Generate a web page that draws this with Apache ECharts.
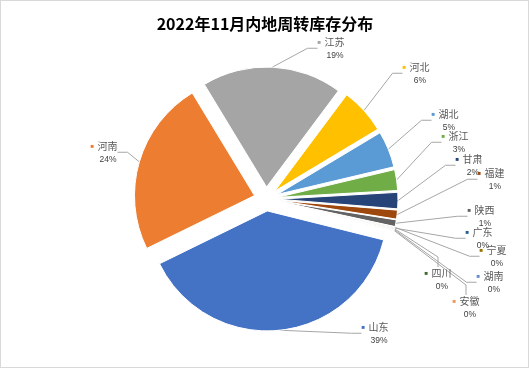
<!DOCTYPE html>
<html>
<head>
<meta charset="utf-8">
<script src="https://cdn.jsdelivr.net/npm/echarts@6/dist/echarts.min.js"></script>
<style>
html,body{margin:0;padding:0;background:#fff;}
#frame{position:absolute;left:0;top:0;width:527px;height:366px;border:1px solid #d9d9d9;}
#chart{position:absolute;left:0;top:0;width:530px;height:369px;}
</style>
</head>
<body>
<div id="frame"></div>
<div id="chart"></div>
<script>
// Data
const provinces = ['山东','河南','江苏','河北','湖北','浙江','甘肃','福建','陕西','宁夏','广东','四川','湖南','安徽'];
const shares = [38.9, 23.6, 18.9, 6.2, 4.9, 2.8, 2.2, 1.2, 0.9, 0.1, 0.1, 0.1, 0.1, 0.1];
const titleText = '2022年11月内地周转库存分布';

// Styles
const colors = ['#4472C4','#ED7D31','#A5A5A5','#FFC000','#5B9BD5','#70AD47','#264478','#9E480E','#636363','#997300','#255E91','#43682B','#698ED0','#F1975A'];
// label block positions [centerX, topY]
const labelPos = [[375,320],[104,139],[331,35],[416,60],[445,107],[455,129],[469,152],[491,166],[481,203],[493,243],[479,225],[438,266],[490,269],[466,294]];

const total = shares.reduce((a,b)=>a+b,0);
const sliceData = provinces.map((p,i)=>({
  name: p, value: shares[i], selected: true,
  itemStyle: {color: colors[i]}
}));
const labelData = provinces.map((p,i)=>({
  name: p, value: shares[i],
  itemStyle: {color: 'rgba(0,0,0,0)', borderWidth: 0},
  label: {
    formatter: '{m|■} {n|' + p + '}\n{p|' + Math.round(shares[i]/total*100) + '%}',
    rich: {
      m: {color: colors[i], fontSize: 6, lineHeight: 14, verticalAlign: 'middle'},
      n: {color: '#595959', fontSize: 10, lineHeight: 14, fontFamily: 'Noto Sans CJK SC'},
      p: {color: '#404040', fontSize: 8.5, lineHeight: 14, fontFamily: 'Liberation Sans', padding:[0,0,0,8]}
    }
  }
}));

const chart = echarts.init(document.getElementById('chart'), null, {renderer:'canvas'});
chart.setOption({
  animation: false,
  title: {
    text: titleText, left: 'center', top: 11,
    textStyle: {fontSize: 16, fontWeight: 'bold', color: '#000', fontFamily: 'Noto Sans CJK SC'}
  },
  series: [{
    type: 'pie',
    z: 3,
    center: [266, 199],
    radius: [0, 120],
    startAngle: -14,
    clockwise: true,
    selectedMode: 'multiple',
    selectedOffset: 12,
    itemStyle: {borderColor: '#fff', borderWidth: 1},
    select: {itemStyle: {borderColor: '#fff', borderWidth: 1}},
    emphasis: {disabled: true},
    label: {show: false},
    labelLine: {show: false},
    silent: true,
    data: sliceData
  }, {
    type: 'pie',
    z: 2,
    center: [266, 199],
    radius: [0, 132],
    startAngle: -14,
    clockwise: true,
    selectedMode: false,
    avoidLabelOverlap: false,
    silent: true,
    emphasis: {disabled: true},
    label: {show: true, position: 'outside', align: 'center'},
    labelLine: {show: true, length: 10, length2: 10, lineStyle: {color: '#A6A6A6', width: 1}},
    labelLayout: function (params) {
      const p = labelPos[params.dataIndex];
      return {x: p[0], y: p[1], align: 'center', verticalAlign: 'top'};
    },
    data: labelData
  }]
});
</script>
</body>
</html>
